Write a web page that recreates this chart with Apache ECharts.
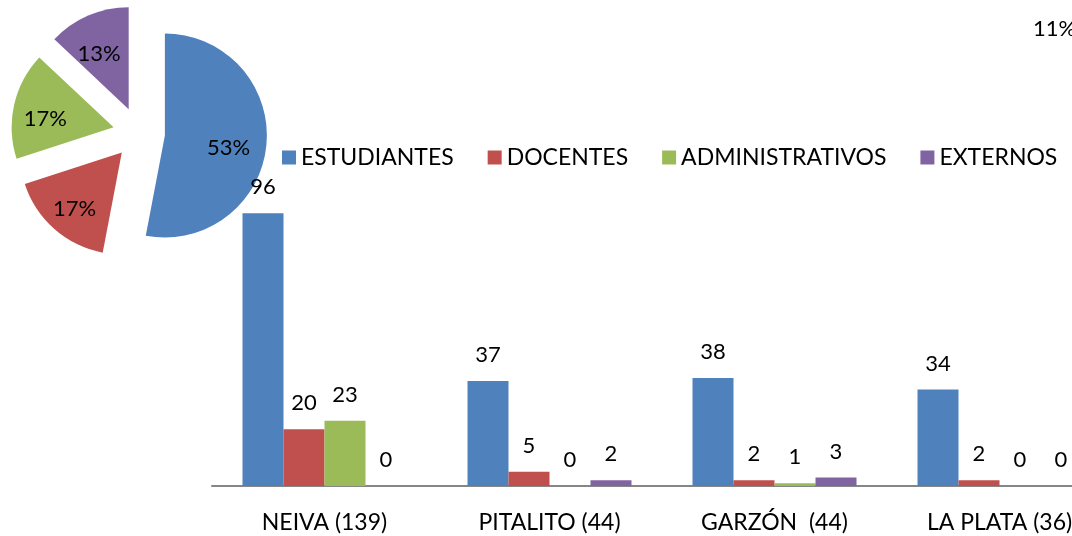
<!DOCTYPE html>
<html>
<head>
<meta charset="utf-8">
<script src="https://cdn.jsdelivr.net/npm/echarts@6/dist/echarts.min.js"></script>
<style>
html, body { margin: 0; padding: 0; background: #fff; }
#container { width: 1072px; height: 536px; }
</style>
</head>
<body>
<div id="container"></div>
<script>
let chart = echarts.init(document.getElementById('container'));

// bar chart data
var sedes = ['NEIVA (139)', 'PITALITO (44)', 'GARZÓN  (44)', 'LA PLATA (36)'];
var estudiantes = [96, 37, 38, 34];
var docentes = [20, 5, 2, 2];
var administrativos = [23, 0, 1, 0];
var externos = [0, 2, 3, 0];

// pie data (percent)
var pieNames = ['ESTUDIANTES', 'DOCENTES', 'ADMINISTRATIVOS', 'EXTERNOS'];
var pieValues = [53, 17, 17, 13];
var strayLabel = '11%';

var colors = ['#4F81BD', '#C0504D', '#9BBB59', '#8064A2'];
var font = 'Lato';
var fs = 22;

var barLabel = {
    show: true,
    position: 'top',
    distance: 15,
    fontFamily: font,
    fontSize: fs,
    color: '#000'
};

function barSerie(name, data, color) {
    return {
        name: name,
        type: 'bar',
        animation: false,
        barWidth: 41,
        barGap: 0,
        itemStyle: { color: color },
        label: barLabel,
        data: data,
        z: 3
    };
}

var pieData = pieNames.map((n, i) => ({
    name: n,
    value: pieValues[i],
    selected: true,
    itemStyle: { color: colors[i] }
}));

var option = {
    color: colors,
    title: {
        text: strayLabel,
        left: 1033,
        top: 18,
        padding: 0,
        textStyle: { fontFamily: font, fontSize: fs, fontWeight: 'normal', color: '#000' }
    },
    legend: {
        data: pieNames,
        left: 282,
        top: 146,
        width: 850,
        padding: 0,
        icon: 'rect',
        itemWidth: 14,
        itemHeight: 14,
        itemGap: 34,
        selectedMode: false,
        textStyle: { fontFamily: font, fontSize: fs + 1, color: '#000' }
    },
    grid: {
        left: 212,
        width: 900,
        top: 202,
        bottom: 50,
        outerBoundsMode: 'none',
        containLabel: false
    },
    xAxis: {
        type: 'category',
        data: sedes,
        axisTick: { show: false },
        axisLine: { lineStyle: { color: '#868686', width: 2 } },
        axisLabel: {
            interval: 0,
            margin: 25,
            fontFamily: font,
            fontSize: fs + 1,
            color: '#000'
        }
    },
    yAxis: {
        type: 'value',
        min: 0,
        max: 100,
        show: false,
        splitLine: { show: false }
    },
    series: [
        {
            type: 'pie',
            animation: false,
            center: [139, 133],
            radius: 102,
            startAngle: 90,
            clockwise: true,
            selectedMode: 'multiple',
            selectedOffset: 26,
            label: { show: false },
            labelLine: { show: false },
            silent: true,
            z: 1,
            data: pieData
        },
        {
            // same pie, only carries the labels further out
            type: 'pie',
            animation: false,
            center: [136, 139],
            radius: 128,
            startAngle: 90,
            clockwise: true,
            selectedMode: 'multiple',
            selectedOffset: 26,
            silent: true,
            itemStyle: { color: 'rgba(0,0,0,0)' },
            label: {
                show: true,
                position: 'inside',
                formatter: '{c}%',
                fontFamily: font,
                fontSize: fs,
                color: '#000'
            },
            labelLine: { show: false },
            z: 2,
            data: pieNames.map((n, i) => ({ name: n, value: pieValues[i], selected: true }))
        },
        barSerie('ESTUDIANTES', estudiantes, colors[0]),
        barSerie('DOCENTES', docentes, colors[1]),
        barSerie('ADMINISTRATIVOS', administrativos, colors[2]),
        barSerie('EXTERNOS', externos, colors[3])
    ]
};

chart.setOption(option);
</script>
</body>
</html>
